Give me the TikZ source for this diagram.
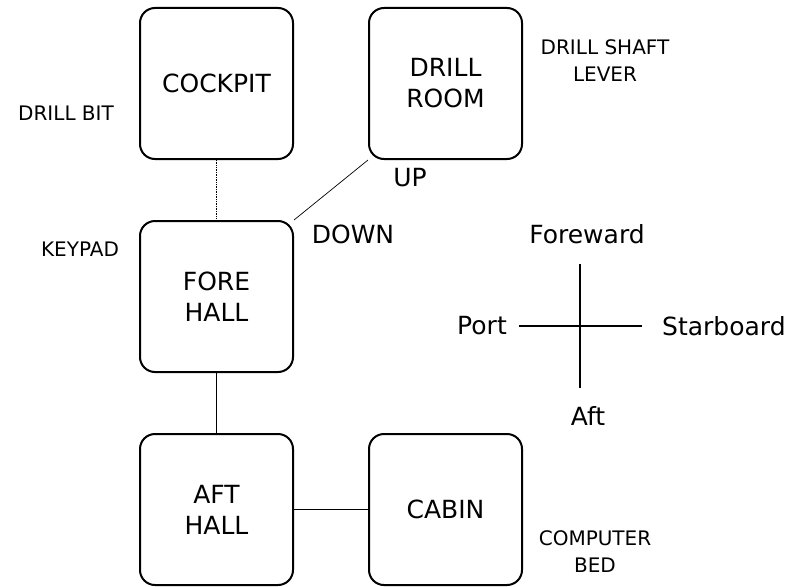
\documentclass[tikz,border=0pt]{standalone}
\usepackage{fontspec}
\setmainfont{DejaVu Sans}
\usetikzlibrary{positioning}
\tikzset{
    % Rooms
    room/.style={rectangle, draw, line width=2pt, rounded corners=15pt,
                 minimum width=153pt, minimum height=151pt, align=center,
                 font=\fontsize{25}{31}\selectfont},
    % Labels
    note/.style={align=center, inner sep=0pt, font=\fontsize{20}{27}\selectfont},
    dir/.style={inner sep=0pt, font=\fontsize{25}{31}\selectfont},
    % Lines
    link/.style={line width=0.7pt},
    axis/.style={line width=1.4pt}
}

\begin{document}
\begin{tikzpicture}[node distance=60pt and 74pt]

\useasboundingbox (0,0) rectangle (794pt,-586pt);

\node[room] (cockpit) at (216.5pt,-83.5pt) {COCKPIT};
\node[room, right=of cockpit] (drill) {DRILL\\ROOM};
\node[room, below=of cockpit] (fore) {FORE\\HALL};
\node[room, below=of fore] (aft) {AFT\\HALL};
\node[room, right=of aft] (cabin) {CABIN};

\draw[link, densely dotted] (cockpit) -- (fore);
\draw[link] (drill.south west) -- (fore.north east);
\draw[link] (fore) -- (aft);
\draw[link] (aft) -- (cabin);

\node[dir] (up) at (410pt,-178pt) {UP};
\node[dir] (down) at (353pt,-234pt) {DOWN};

\node[note] (bit) at (66pt,-113pt) {DRILL BIT};
\node[note] (keypad) at (80pt,-249pt) {KEYPAD};
\node[note] (lever) at (605pt,-61pt) {DRILL SHAFT\\LEVER};
\node[note] (bed) at (595pt,-552pt) {COMPUTER\\BED};

% compass
\node[dir] (fwd) at (587pt,-234pt) {Foreward};
\node[dir] (aftdir) at (588pt,-416pt) {Aft};
\node[dir, anchor=east] (port) at (507pt,-326pt) {Port};
\node[dir, anchor=west] (star) at (662pt,-326pt) {Starboard};

\draw[axis, shorten <=12pt, shorten >=20pt] (port) -- (star);
\draw[axis, shorten <=20pt, shorten >=18pt] (fwd.south -| 580pt,0) -- (aftdir.north -| 580pt,0);

\end{tikzpicture}
\end{document}
